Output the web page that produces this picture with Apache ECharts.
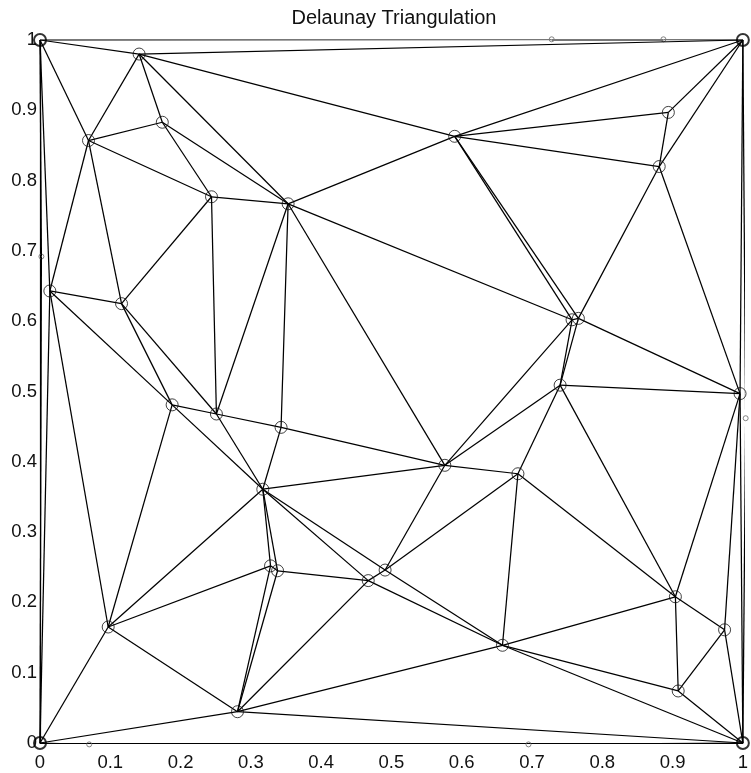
<!DOCTYPE html>
<html>
<head>
<meta charset="utf-8">
<script src="https://cdn.jsdelivr.net/npm/echarts@6/dist/echarts.min.js"></script>
<style>html,body{margin:0;padding:0;background:#fff}#c{width:751px;height:773px}</style>
</head>
<body>
<div id="c"></div>
<script>
// Point coordinates
const pointX = [0, 1, 1, 0, 0.141, 0.069, 0.174, 0.244, 0.353, 0.590, 0.894, 0.881, 0.014, 0.116, 0.188, 0.251, 0.343, 0.576, 0.317, 0.757, 0.766, 0.740, 0.996, 0.680, 0.097, 0.281, 0.328, 0.338, 0.467, 0.491, 0.658, 0.904, 0.974, 0.908, 0.002, 0.070, 0.728, 0.887, 1.004, 0.695];
const pointY = [0, 0, 1, 1, 0.980, 0.857, 0.883, 0.777, 0.767, 0.863, 0.897, 0.820, 0.643, 0.625, 0.481, 0.468, 0.449, 0.395, 0.361, 0.602, 0.604, 0.509, 0.497, 0.383, 0.165, 0.0445, 0.252, 0.245, 0.231, 0.246, 0.139, 0.208, 0.161, 0.074, 0.692, -0.002, 1.001, 1.001, 0.462, -0.002];
const cornerIdx = [0, 1, 2, 3];
const edgePointIdx = [34, 35, 36, 37, 38, 39];
// Triangulation edges (pairs of point indices)
const edges = [
  [3,4],[3,5],[3,12],[3,34],[34,0],[4,2],
  [4,5],[4,6],[4,8],[4,9],
  [5,6],[5,7],[5,12],[5,13],
  [6,7],[6,8],
  [7,8],[7,13],[7,15],
  [8,15],[8,16],[8,17],[8,19],[8,9],
  [9,2],[9,10],[9,11],[9,19],[9,20],
  [10,2],[10,11],[11,2],[11,20],[11,22],
  [2,22],[2,38],[38,1],
  [20,22],[19,20],[19,21],[20,21],[19,17],[21,17],[21,22],[21,23],[21,31],
  [22,31],[22,32],[22,1],
  [23,17],[23,31],[23,30],[23,29],
  [17,29],[17,16],[17,18],
  [16,15],[16,18],
  [18,15],[18,14],[18,24],[18,26],[18,27],[18,28],[18,29],
  [15,13],[15,14],
  [13,14],[12,13],[12,14],[12,24],[12,0],
  [14,24],
  [24,26],[24,25],[24,0],
  [0,25],[0,35],[35,39],[39,1],
  [25,26],[25,27],[25,28],[25,30],[25,1],
  [26,27],[27,28],[28,29],[28,30],[29,30],
  [30,31],[30,33],[30,1],
  [31,32],[31,33],[32,33],[32,1],[33,1]
];
const topEdges = [[3,36],[36,37],[37,2]];
const xTicks = [0, 0.1, 0.2, 0.3, 0.4, 0.5, 0.6, 0.7, 0.8, 0.9, 1];
const titleText = 'Delaunay Triangulation';

const P = pointX.map((x, i) => [x, pointY[i]]);
const normalPts = P.filter((p, i) => cornerIdx.indexOf(i) < 0 && edgePointIdx.indexOf(i) < 0);
const cornerPts = cornerIdx.map(i => P[i]);
const edgePts = edgePointIdx.map(i => P[i]);
const FONT = 'Liberation Sans, Arial, sans-serif';

const chart = echarts.init(document.getElementById('c'), null, {renderer: 'canvas'});
const axisCommon = {
  type: 'value', min: 0, max: 1, interval: 0.1,
  axisLine: {show: true, onZero: false, lineStyle: {color: '#000', width: 1.2}},
  axisTick: {show: false},
  splitLine: {show: false},
};
const fmt = v => String(xTicks.find(t => Math.abs(t - v) < 1e-9) ?? v);
chart.setOption({
  animation: false,
  backgroundColor: '#fff',
  graphic: [{
    type: 'text', x: 394, y: 18,
    style: {text: titleText, fontSize: 20, fontFamily: FONT, fill: '#111', textAlign: 'center', textVerticalAlign: 'middle'}
  }],
  grid: {left: 40, right: 6, top: 40, bottom: 30, containLabel: false},
  xAxis: Object.assign({}, axisCommon, {
    axisLabel: {color: '#111', fontSize: 18.5, fontFamily: FONT, margin: 10, formatter: fmt}
  }),
  yAxis: Object.assign({}, axisCommon, {
    axisLabel: {color: '#111', fontSize: 18.5, fontFamily: FONT, margin: 3, formatter: fmt}
  }),
  series: [
    {
      type: 'lines', coordinateSystem: 'cartesian2d', silent: true, z: 3,
      lineStyle: {color: '#777', width: 2, opacity: 1},
      data: topEdges.map(([a, b]) => ({coords: [P[a], P[b]]}))
    },
    {
      type: 'lines', coordinateSystem: 'cartesian2d', silent: true, z: 4,
      lineStyle: {color: '#000', width: 1.25, opacity: 1},
      data: edges.map(([a, b]) => ({coords: [P[a], P[b]]}))
    },
    {
      type: 'scatter', clip: false, silent: true, z: 5,
      symbol: 'circle', symbolSize: 12,
      itemStyle: {color: 'rgba(0,0,0,0)', borderColor: '#111', borderWidth: 1},
      data: normalPts
    },
    {
      type: 'scatter', clip: false, silent: true, z: 5,
      symbol: 'circle', symbolSize: 12,
      itemStyle: {color: 'rgba(0,0,0,0)', borderColor: '#000', borderWidth: 2},
      data: cornerPts
    },
    {
      type: 'scatter', clip: false, silent: true, z: 2,
      symbol: 'circle', symbolSize: 5,
      itemStyle: {color: 'rgba(0,0,0,0)', borderColor: '#666', borderWidth: 1},
      data: edgePts
    }
  ]
});
</script>
</body>
</html>
